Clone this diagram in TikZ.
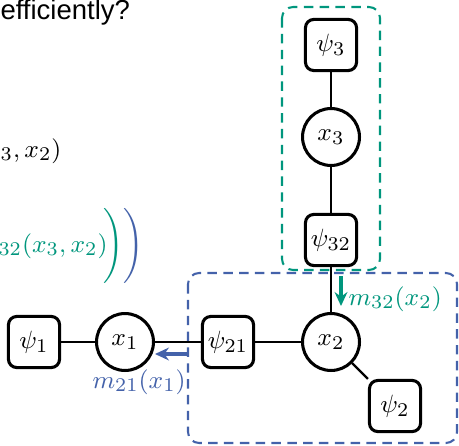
\documentclass[tikz,border=0pt]{standalone}
\usepackage{amsmath}
\usepackage{fontspec}
\newfontfamily\slidesans{Liberation Sans}
\usetikzlibrary{arrows.meta}
\definecolor{tealg}{RGB}{0,150,125}
\definecolor{blueb}{RGB}{68,98,170}
\tikzset{
  fac/.style={draw, line width=1.1pt, rounded corners=3pt, minimum size=18.4pt, inner sep=0pt, fill=white},
  var/.style={draw, circle, line width=1.1pt, minimum size=20.5pt, inner sep=0pt, fill=white},
  edge/.style={line width=0.8pt},
  grp/.style={dashed, line width=0.75pt, dash pattern=on 3.4pt off 2.3pt, rounded corners=4pt},
  msg/.style={-{Stealth[length=5pt,width=4.6pt]}, line width=1.1pt}
}
\begin{document}
\begin{tikzpicture}[x=0.36pt,y=-0.36pt, font=\fontsize{9.4pt}{11pt}\selectfont]
\useasboundingbox (0,0) rectangle (459,445);
% group boxes
\draw[grp, tealg] (282,7) rectangle (380,270);
\draw[grp, blueb] (188,273) rectangle (457,443);
% nodes
\node[fac] (p1) at (34,342) {$\psi_1$};
\node[var] (x1) at (125,342) {$x_1$};
\node[fac] (p21) at (228,342) {$\psi_{21}$};
\node[var] (x2) at (331,342) {$x_2$};
\node[fac] (p2) at (395,406) {$\psi_2$};
\node[fac] (p32) at (331,240) {$\psi_{32}$};
\node[var] (x3) at (331,137) {$x_3$};
\node[fac] (p3) at (331,45) {$\psi_3$};
% edges
\draw[edge] (p1) -- (x1);
\draw[edge] (x1) -- (p21);
\draw[edge] (p21) -- (x2);
\draw[edge] (x2) -- (p2);
\draw[edge] (p32) -- (x2);
\draw[edge] (x3) -- (p32);
\draw[edge] (p3) -- (x3);
% messages
\coordinate (g1) at (341,276);
\coordinate (g2) at (341,306);
\draw[msg, tealg] (g1) -- (g2);
\node[tealg, anchor=base west, inner sep=0pt] (m32) at (348,305) {$m_{32}(x_2)$};
\coordinate (b1) at (187,354);
\coordinate (b2) at (155,354);
\draw[msg, blueb] (b1) -- (b2);
\node[blueb, anchor=base west, inner sep=0pt] (m21) at (92,388) {$m_{21}(x_1)$};
% left text fragments
\node[anchor=base west, inner sep=0pt] (q) at (0,20) {\slidesans\fontsize{9.9pt}{11pt}\selectfont efficiently?};
\node[anchor=base west, inner sep=0pt] (f1) at (0,157) {${}_3, x_2)$};
\node[tealg, anchor=base west, inner sep=0pt] (f2) at (-2,252) {${}_{32}(x_3, x_2)$};
\node[tealg, inner sep=0pt] (pg) at (114,246) {$\Bigg)$};
\node[blueb, inner sep=0pt] (pb) at (134,246) {$\Bigg)$};
\end{tikzpicture}
\end{document}
